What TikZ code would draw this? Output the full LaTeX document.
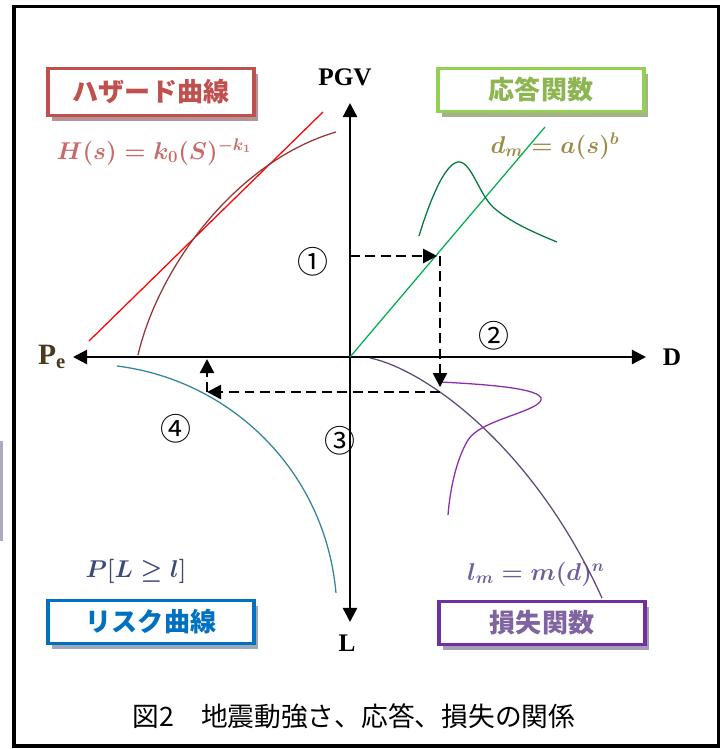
\documentclass[tikz,border=0pt]{standalone}
\usepackage{amsmath,amssymb}
\usepackage{fontspec}
\setmainfont{Liberation Serif}
\newfontfamily\jpfont{Noto Sans CJK JP}
\usetikzlibrary{arrows.meta,shadows}
\definecolor{hazcolor}{HTML}{C0504D}
\definecolor{hazshadow}{HTML}{B49494}
\definecolor{hazcurve}{HTML}{943634}
\definecolor{respcolor}{HTML}{92D050}
\definecolor{resptext}{HTML}{8DB552}
\definecolor{respshadow}{HTML}{A8AE90}
\definecolor{respline}{HTML}{00B050}
\definecolor{respcurve}{HTML}{007A3D}
\definecolor{respform}{HTML}{9C8B45}
\definecolor{riskcolor}{HTML}{0070C0}
\definecolor{riskshadow}{HTML}{9FA8B8}
\definecolor{riskcurve}{HTML}{31849B}
\definecolor{riskform}{HTML}{3B4A78}
\definecolor{losscolor}{HTML}{7030A0}
\definecolor{losstext}{HTML}{8064A2}
\definecolor{lossshadow}{HTML}{A89DB3}
\definecolor{losscurve}{HTML}{5F497A}
\definecolor{lossdens}{HTML}{8A2BB0}
\definecolor{lossform}{HTML}{6E5E9A}
\definecolor{pecolor}{HTML}{4A3A20}
\definecolor{stripcolor}{HTML}{B0A8C0}

\begin{document}
\begin{tikzpicture}[
  x=0.025cm, y=-0.025cm,
  >={Triangle[length=10pt,width=10pt]},
  axis/.style={line width=1.6pt, draw=black},
  dsh/.style={line width=1.6pt, dash pattern=on 7pt off 4pt, draw=black},
  curve/.style={line width=0.9pt},
  titlebox/.style={draw, line width=2.4pt, fill=white, minimum width=5.15cm, minimum height=1.08cm, inner sep=0pt, font={\jpfont\bfseries\fontsize{18.5}{22}\selectfont}},
  haz/.style={titlebox, draw=hazcolor, text=hazcolor, minimum height=1.18cm, drop shadow={shadow xshift=0.1cm, shadow yshift=-0.13cm, fill=hazshadow, opacity=1}},
  resp/.style={titlebox, draw=respcolor, text=resptext, drop shadow={shadow xshift=0.1cm, shadow yshift=-0.13cm, fill=respshadow, opacity=1}},
  risk/.style={titlebox, draw=riskcolor, text=riskcolor, drop shadow={shadow xshift=0.1cm, shadow yshift=-0.13cm, fill=riskshadow, opacity=1}},
  loss/.style={titlebox, draw=losscolor, text=losstext, drop shadow={shadow xshift=0.1cm, shadow yshift=-0.13cm, fill=lossshadow, opacity=1}},
  formula/.style={font={\fontsize{16.5}{20}\selectfont\boldmath}},
  axlabel/.style={font={\bfseries\fontsize{18}{20}\selectfont}},
  num/.style={font={\jpfont\fontsize{22}{24}\selectfont}}
]
  \useasboundingbox (0,0) rectangle (722,749);
  % cornice
  \draw[line width=2.5pt] (14,6.5) rectangle (718.5,746);
  \fill[stripcolor] (0,441) rectangle (2.5,541);

  % riquadri dei quattro quadranti
  \node[haz]  (hazard)   at (151, 92) {ハザード曲線};
  \node[resp] (response) at (541, 90) {応答関数};
  \node[risk] (riskc)    at (151,622) {リスク曲線};
  \node[loss] (lossf)    at (542,623) {損失関数};

  % formule
  \node[formula, text=hazcolor!85!white] (Hs) at (154,152) {$H(s)=k_0(S)^{-k_1}$};
  \node[formula, text=respform]  (dm) at (555,146) {$d_m=a(s)^b$};
  \node[formula, text=riskform]  (PL) at (136,571) {$P[L\geq l]$};
  \node[formula, text=lossform]  (lm) at (536,574) {$l_m=m(d)^n$};

  % assi
  \coordinate (O)    at (350,357);
  \coordinate (yTop) at (350,103);
  \coordinate (yBot) at (350,622);
  \coordinate (xL)   at ( 73,357);
  \coordinate (xR)   at (646,357);
  \draw[axis,<->] (yBot) -- (yTop);
  \draw[axis,<->] (xL) -- (xR);
  \node[axlabel] (PGV) at (345, 77) {PGV};
  \node[axlabel] (D)   at (672,357) {D};
  \node[axlabel] (L)   at (347,643) {L};
  \node[axlabel, text=pecolor, font={\fontsize{21}{24}\selectfont}] (Pe) at (52,357) {$\mathbf{P_e}$};

  % curve
  \draw[curve, red] (89,341) -- (323,112);
  \draw[curve, hazcurve] (138,355) .. controls (160,262) and (240,160) .. (336,132);
  \draw[curve, respline] (O) -- (545,127);
  \draw[curve, respcurve] (419,236) .. controls (430,200) and (446,160) .. (460,162)
    .. controls (472,164) and (480,196) .. (494,208) .. controls (510,222) and (535,233) .. (557,242);
  \draw[curve, riskcurve] (117,366) .. controls (230,380) and (325,470) .. (336,593);
  \draw[curve, losscurve] (370,358) .. controls (420,368) and (530,440) .. (602,598);
  \draw[curve, lossdens] (440,382) .. controls (480,384) and (545,388) .. (541,400)
    .. controls (537,412) and (480,420) .. (468,440) .. controls (456,460) and (450,490) .. (448,515);

  % percorso tratteggiato
  \coordinate (s1) at (350,256);
  \coordinate (c1) at (440,256);
  \coordinate (c2) at (440,392);
  \coordinate (c3) at (207,392);
  \coordinate (s4) at (207,359);
  \draw[dsh,->,shorten >=2pt] (s1) -- (c1);
  \draw[dsh,->,shorten >=3.5pt] (c1) -- (c2);
  \draw[dsh,->] (c2) -- (c3);
  \draw[dsh,->] (c3) -- (s4);

  % numeri
  \node[num] (n1) at (313,262) {①};
  \node[num] (n2) at (494,336) {②};
  \node[num] (n3) at (340,441) {③};
  \node[num] (n4) at (176,429) {④};

  % didascalia
  \node[font={\jpfont\fontsize{19}{22}\selectfont}] (caption) at (354,716) {図2　地震動強さ、応答、損失の関係};
\end{tikzpicture}
\end{document}
